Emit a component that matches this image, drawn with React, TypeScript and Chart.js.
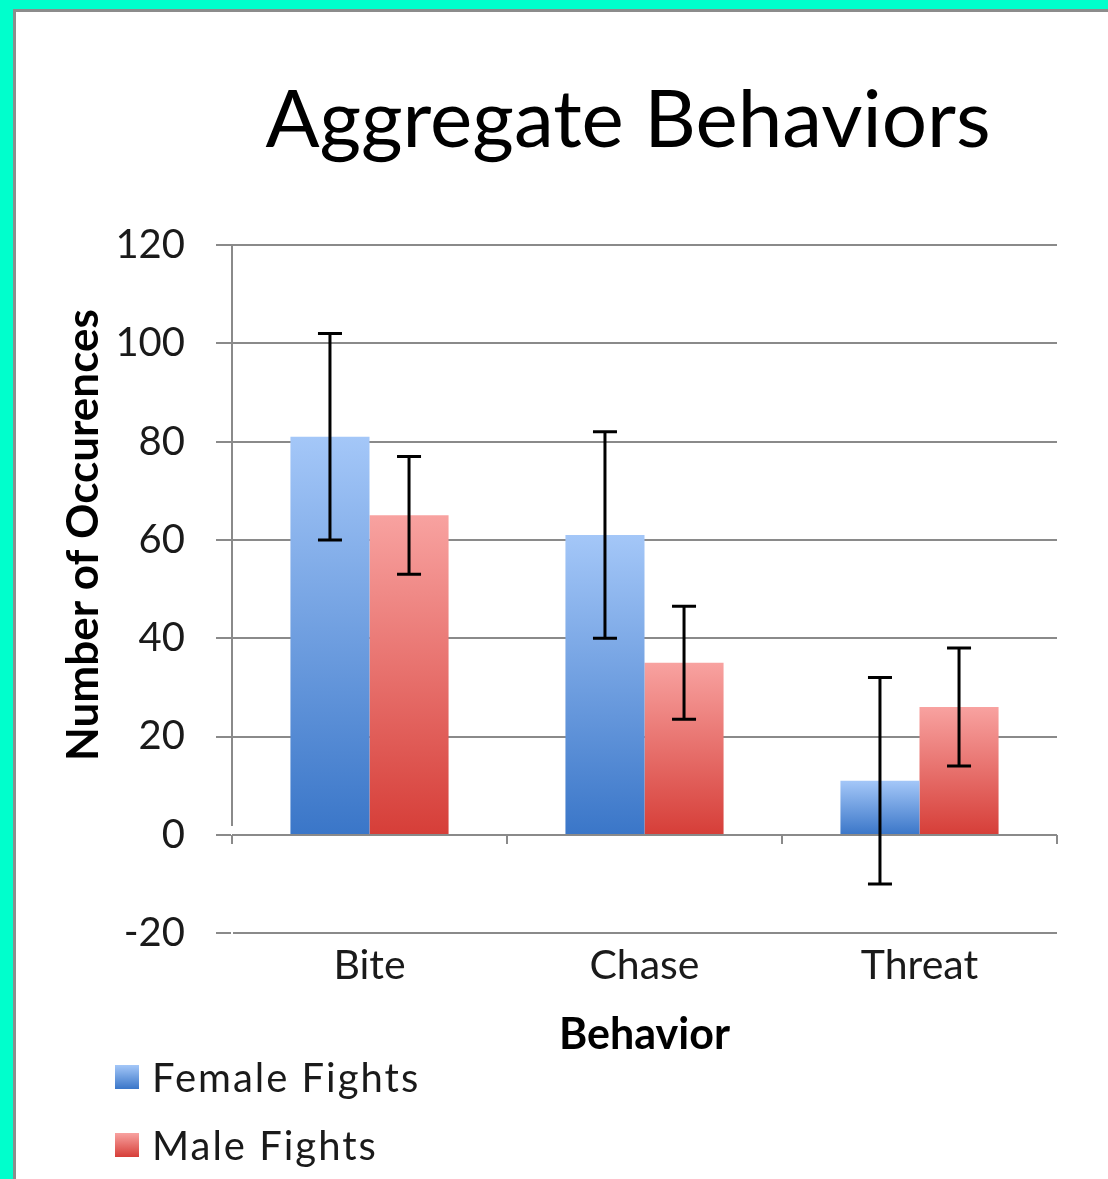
import React, { useEffect, useRef } from "react";
import { Chart, registerables } from "chart.js";

Chart.register(...registerables);

const categories = ["Bite", "Chase", "Threat"];
const seriesNames = ["Female Fights", "Male Fights"];
const femaleValues = [81, 61, 11];
const maleValues = [65, 35, 26];
const femaleErrors = [21, 21, 21];
const maleErrors = [12, 11.5, 12];
const yMin = -20;
const yMax = 120;
const yStep = 20;

const FEMALE_TOP = "#a4c7f8";
const FEMALE_BOTTOM = "#3a76c8";
const MALE_TOP = "#f8a2a0";
const MALE_BOTTOM = "#d63e38";
const GRID = "#8a8a8a";
const FONT = "Lato, 'Open Sans', sans-serif";

function gradientFill(top: string, bottom: string) {
  return (c: any) => {
    const chart = c.chart;
    if (!chart.chartArea || c.type !== "data") return bottom;
    const y = chart.scales.y;
    const v = c.raw as number;
    const g = chart.ctx.createLinearGradient(0, y.getPixelForValue(v), 0, y.getPixelForValue(0));
    g.addColorStop(0, top);
    g.addColorStop(1, bottom);
    return g;
  };
}

const zeroAxisPlugin = {
  id: "zeroAxis",
  afterDatasetsDraw(chart: any) {
    const { ctx, chartArea, scales } = chart;
    const y0 = scales.y.getPixelForValue(0);
    ctx.save();
    ctx.strokeStyle = GRID;
    ctx.lineWidth = 2;
    ctx.beginPath();
    ctx.moveTo(chartArea.left, y0);
    ctx.lineTo(chartArea.right, y0);
    for (let i = 0; i <= categories.length; i++) {
      const x = scales.x.getPixelForValue(i - 0.5);
      ctx.moveTo(x, y0);
      ctx.lineTo(x, y0 + 9);
    }
    ctx.stroke();
    ctx.restore();
  },
};

const errorBarPlugin = {
  id: "errorBars",
  afterDatasetsDraw(chart: any) {
    const { ctx, scales } = chart;
    chart.data.datasets.forEach((ds: any, di: number) => {
      const meta = chart.getDatasetMeta(di);
      meta.data.forEach((bar: any, i: number) => {
        const v = ds.data[i];
        const e = ds.errors[i];
        const yt = scales.y.getPixelForValue(v + e);
        const yb = scales.y.getPixelForValue(v - e);
        const x = bar.x;
        ctx.save();
        ctx.strokeStyle = "#000";
        ctx.lineWidth = 3;
        ctx.beginPath();
        ctx.moveTo(x, yt);
        ctx.lineTo(x, yb);
        ctx.moveTo(x - 12, yt);
        ctx.lineTo(x + 12, yt);
        ctx.moveTo(x - 12, yb);
        ctx.lineTo(x + 12, yb);
        ctx.stroke();
        ctx.restore();
      });
    });
  },
};

// Title centred a little left of the plot; y-axis title raised above plot centre, as in the original.
const layoutTweakPlugin = {
  id: "layoutTweak",
  afterLayout(chart: any) {
    const t = chart.titleBlock;
    if (t) {
      t.left = chart.chartArea.left - 33;
      t.right = chart.chartArea.right;
    }
    const y = chart.scales.y;
    if (y) {
      y.bottom = y.bottom - 108;
    }
  },
};

export default function App() {
  const ref = useRef<HTMLCanvasElement | null>(null);

  useEffect(() => {
    if (!ref.current) return;
    const chart = new Chart(ref.current, {
      type: "bar",
      data: {
        labels: categories,
        datasets: [
          {
            label: seriesNames[0],
            data: femaleValues,
            errors: femaleErrors,
            backgroundColor: gradientFill(FEMALE_TOP, FEMALE_BOTTOM),
            borderWidth: 0,
            barPercentage: 1,
            categoryPercentage: 0.575,
            clip: false,
          } as any,
          {
            label: seriesNames[1],
            data: maleValues,
            errors: maleErrors,
            backgroundColor: gradientFill(MALE_TOP, MALE_BOTTOM),
            borderWidth: 0,
            barPercentage: 1,
            categoryPercentage: 0.575,
            clip: false,
          } as any,
        ],
      },
      options: {
        responsive: false,
        animation: false,
        layout: { padding: { left: 0, right: 51, top: 0, bottom: 118 } },
        plugins: {
          legend: { display: false },
          tooltip: { enabled: false },
          title: {
            display: true,
            text: "Aggregate Behaviors",
            color: "#000",
            font: { family: FONT, size: 80, weight: "normal" },
            padding: { top: 61, bottom: 76 },
          },
        },
        scales: {
          x: {
            grid: { display: false, drawTicks: false },
            border: { display: false },
            ticks: { color: "#1a1a1a", font: { family: FONT, size: 41 }, padding: 8 },
            title: {
              display: true,
              text: "Behavior",
              color: "#000",
              font: { family: FONT, size: 43, weight: "bold" },
              padding: { top: 11, bottom: 0 },
            },
          },
          y: {
            min: yMin,
            max: yMax,
            ticks: {
              stepSize: yStep,
              color: "#1a1a1a",
              font: { family: FONT, size: 40 },
              padding: 31,
            },
            grid: { color: GRID, lineWidth: 2, tickLength: 16, drawTicks: true },
            border: { display: true, color: GRID, width: 2 },
            title: {
              display: true,
              text: "Number of Occurences",
              color: "#000",
              font: { family: FONT, size: 44, weight: "bold" },
              padding: { top: 41, bottom: 0 },
            },
            afterFit(scale: any) {
              scale.width = 216;
            },
          },
        },
      },
      plugins: [layoutTweakPlugin, zeroAxisPlugin, errorBarPlugin],
    });
    return () => chart.destroy();
  }, []);

  const legendItem = (name: string, top: string, bottom: string, y: number) => (
    <div
      style={{
        position: "absolute",
        left: 115,
        top: y,
        height: 48,
        display: "flex",
        alignItems: "center",
        fontFamily: FONT,
        fontSize: 40,
        letterSpacing: 2,
        color: "#1a1a1a",
        whiteSpace: "nowrap",
      }}
    >
      <span
        style={{
          display: "inline-block",
          width: 24,
          height: 24,
          marginRight: 13,
          background: `linear-gradient(${top}, ${bottom})`,
        }}
      />
      <span>{name}</span>
    </div>
  );

  return (
    <div
      style={{
        position: "absolute",
        left: 0,
        top: 0,
        width: 1108,
        height: 1179,
        background: "#00ffcc",
        overflow: "hidden",
      }}
    >
      <div
        style={{
          position: "absolute",
          left: 13,
          top: 9,
          right: 0,
          bottom: 0,
          background: "#8c8c8c",
        }}
      />
      <div
        style={{
          position: "absolute",
          left: 16,
          top: 12,
          right: 0,
          bottom: 0,
          background: "#ffffff",
        }}
      >
        <canvas ref={ref} width={1092} height={1167} style={{ display: "block" }} />
      </div>
      {legendItem(seriesNames[0], FEMALE_TOP, FEMALE_BOTTOM, 1053)}
      {legendItem(seriesNames[1], MALE_TOP, MALE_BOTTOM, 1121)}
    </div>
  );
}
